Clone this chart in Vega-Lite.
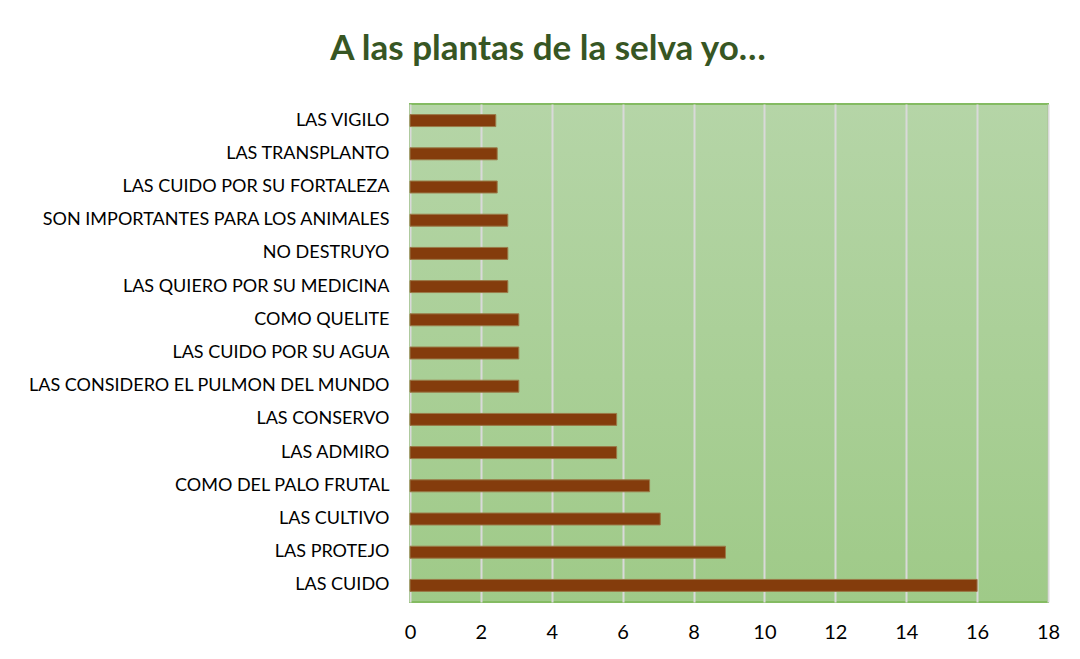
{
  "$schema": "https://vega.github.io/schema/vega-lite/v6.json",
  "autosize": {"type": "none"},
  "width": 638,
  "height": 498,
  "padding": {"left": 410, "top": 104, "right": 32, "bottom": 57},
  "background": "#ffffff",
  "title": {
    "text": "A las plantas de la selva yo…",
    "font": "Lato",
    "fontSize": 35,
    "fontWeight": "bold",
    "color": "#375623",
    "anchor": "middle",
    "frame": "group",
    "dx": -181,
    "offset": 37
  },
  "data": {
    "values": [
      {"respuesta": "LAS VIGILO", "valor": 2.42},
      {"respuesta": "LAS TRANSPLANTO", "valor": 2.46},
      {"respuesta": "LAS CUIDO POR SU FORTALEZA", "valor": 2.46},
      {"respuesta": "SON IMPORTANTES PARA LOS ANIMALES", "valor": 2.76},
      {"respuesta": "NO DESTRUYO", "valor": 2.76},
      {"respuesta": "LAS QUIERO POR SU MEDICINA", "valor": 2.76},
      {"respuesta": "COMO QUELITE ", "valor": 3.07},
      {"respuesta": "LAS CUIDO POR SU AGUA", "valor": 3.07},
      {"respuesta": "LAS CONSIDERO EL PULMON DEL MUNDO", "valor": 3.07},
      {"respuesta": "LAS CONSERVO", "valor": 5.83},
      {"respuesta": "LAS ADMIRO", "valor": 5.83},
      {"respuesta": "COMO DEL PALO FRUTAL ", "valor": 6.76},
      {"respuesta": "LAS CULTIVO", "valor": 7.06},
      {"respuesta": "LAS PROTEJO", "valor": 8.9},
      {"respuesta": "LAS CUIDO", "valor": 16}
    ]
  },
  "mark": {"type": "bar", "color": "#843c0c", "stroke": "#9a7a48", "strokeWidth": 1},
  "encoding": {
    "y": {
      "field": "respuesta",
      "type": "nominal",
      "sort": null,
      "scale": {"paddingInner": 0.64, "paddingOuter": 0.32},
      "axis": {
        "title": null,
        "domain": false,
        "ticks": false,
        "labelPadding": 21,
        "labelFont": "Lato",
        "labelFontSize": 18,
        "labelColor": "#000000",
        "labelLimit": 500
      }
    },
    "x": {
      "field": "valor",
      "type": "quantitative",
      "scale": {"domain": [0, 18], "nice": false},
      "axis": {
        "title": null,
        "values": [0, 2, 4, 6, 8, 10, 12, 14, 16, 18],
        "domain": false,
        "ticks": false,
        "labelFlush": false,
        "labelPadding": 20,
        "labelFont": "Lato",
        "labelFontSize": 20,
        "labelColor": "#000000",
        "grid": true,
        "gridColor": "#d9d9d9",
        "gridWidth": 2
      }
    }
  },
  "config": {
    "view": {
      "stroke": "#84bb62",
      "strokeWidth": 2,
      "fill": {
        "gradient": "linear",
        "x1": 0, "y1": 0, "x2": 0, "y2": 1,
        "stops": [
          {"offset": 0, "color": "#b5d5a7"},
          {"offset": 1, "color": "#9fca88"}
        ]
      }
    }
  }
}
